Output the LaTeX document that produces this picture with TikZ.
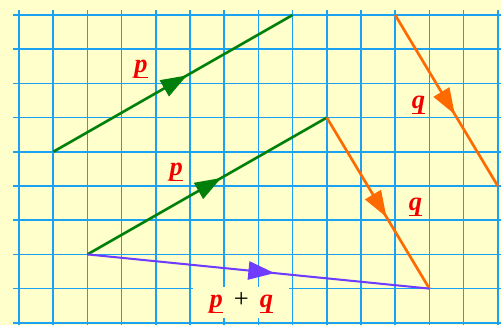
\documentclass[tikz,border=0pt]{standalone}
\usepackage{fontspec}
\setmainfont{Liberation Serif}
\usetikzlibrary{decorations.markings}
\definecolor{paper}{HTML}{FFFFCC}
\definecolor{gridblue}{HTML}{1BA1F2}
\definecolor{vgreen}{HTML}{00800A}
\definecolor{vorange}{HTML}{FF6A00}
\definecolor{vpurple}{HTML}{6E3BFF}
\definecolor{vred}{HTML}{F20000}
\newcommand{\vl}[1]{\textcolor{vred}{\underline{\raisebox{0pt}[\height][0.55\depth]{\textbf{\textit{#1}}}}}}

\begin{document}
\begin{tikzpicture}[
  vec/.style={draw=#1, line width=2.2pt, postaction={decorate},
    decoration={markings, mark=at position 0.5 with
      {\fill[#1] (0.47,0) -- (-0.29,0.275) -- (-0.29,-0.275) -- cycle;}}},
  lbl/.style={font=\fontsize{22}{26}\selectfont, inner sep=0pt},
  sumbox/.style={fill=paper, minimum width=2.8cm, minimum height=0.9cm, inner sep=0pt}]

% ================================================================== paper and grid
% one grid square = 1cm, rows counted downwards from the top line
\fill[paper] (-0.556,0.439) rectangle (14.094,-9.064);
\useasboundingbox (-0.556,0.439) rectangle (14.094,-9.064);
\foreach \j in {0,...,9}{ \draw[gridblue, line width=1.3pt] (-0.175,-\j) -- (14.094,-\j); }
\foreach \i in {0,...,14}{ \draw[gridblue, line width=1.3pt] (\i,0.146) -- (\i,-9.064); }

% ================================================================== the vectors
\coordinate (p0) at (1,-4);
\coordinate (p1) at (8,0);
\coordinate (q0) at (11,0);
\coordinate (q1) at (14,-5);
\coordinate (a) at (2,-7);
\coordinate (b) at (9,-3);
\coordinate (c) at (12,-8);

\draw[vec=vgreen] (p0) -- (p1);
\draw[vec=vorange] (q0) -- (q1);
% triangle rule: p then q, and p+q straight across
\draw[vec=vgreen] (a) -- (b);
\draw[vec=vorange] (b) -- (c);
\draw[vec=vpurple, line width=1.7pt] (a) -- (c);

% ================================================================== labels
\node[lbl] (lp1) at (3.57,-1.58) {\vl{p}};
\node[lbl] (lp2) at (4.6,-4.6) {\vl{p}};
\node[lbl] (lq1) at (11.68,-2.62) {\vl{q}};
\node[lbl] (lq2) at (11.59,-5.6) {\vl{q}};
\node[sumbox, lbl] (lsum) at (6.5,-8.4) {\vl{p}\, + \,\vl{q}};
\end{tikzpicture}
\end{document}
